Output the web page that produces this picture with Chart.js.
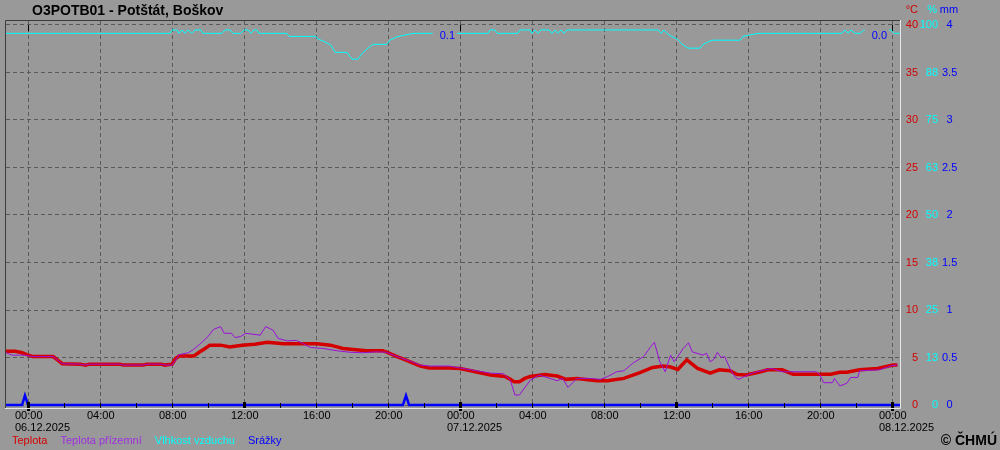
<!DOCTYPE html>
<html>
<head>
<meta charset="utf-8">
<title>O3POTB01 - Potštát, Boškov</title>
<script src="https://cdn.jsdelivr.net/npm/chart.js@4.4.1/dist/chart.umd.min.js"></script>
<style>
  html, body { margin: 0; padding: 0; background: #999999; }
  canvas { display: block; }
</style>
</head>
<body>
<canvas id="chart" width="1000" height="450"></canvas>
<script>
// hours from 06.12.2025 00:00
const tempHours = [-1.22, -0.7, -0.33, -0.06, 0.28, 1.4, 1.67, 1.9, 2.9, 3.2, 3.4, 5.1, 5.3, 6.4, 6.6, 7.4, 7.6, 8.0, 8.2, 8.4, 9.2, 9.55, 9.8, 10.1, 10.7, 11.2, 11.9, 12.6, 13.3, 14.2, 15.3, 16.05, 16.8, 17.5, 18.8, 19.7, 19.9, 20.5, 20.9, 21.4, 21.8, 22.3, 23.4, 24.0, 24.6, 25.7, 26.5, 26.8, 27.0, 27.3, 27.6, 27.9, 28.7, 29.4, 29.9, 30.5, 31.6, 32.2, 33.1, 34.0, 34.7, 35.3, 35.7, 36.1, 36.6, 37.2, 37.9, 38.4, 39.0, 39.4, 39.9, 40.7, 41.1, 41.9, 42.5, 44.6, 45.1, 45.5, 46.2, 47.2, 48.05, 48.3];
const tempValues = [5.65, 5.65, 5.5, 5.3, 5.1, 5.1, 4.7, 4.35, 4.3, 4.2, 4.3, 4.3, 4.2, 4.2, 4.3, 4.3, 4.2, 4.3, 4.9, 5.15, 5.15, 5.6, 5.9, 6.3, 6.3, 6.1, 6.3, 6.4, 6.6, 6.45, 6.45, 6.45, 6.3, 5.95, 5.7, 5.7, 5.6, 5.1, 4.8, 4.4, 4.1, 3.9, 3.9, 3.85, 3.6, 3.15, 3.0, 2.7, 2.45, 2.45, 2.8, 3.0, 3.2, 3.05, 2.7, 2.8, 2.55, 2.55, 2.8, 3.4, 3.95, 4.1, 4.0, 3.75, 4.75, 3.85, 3.35, 3.7, 3.6, 3.2, 3.15, 3.5, 3.7, 3.7, 3.25, 3.25, 3.45, 3.45, 3.7, 3.85, 4.2, 4.2];

const groundHours = [-1.22, -0.9, -0.2, 0.28, 1.4, 1.67, 1.9, 2.9, 3.2, 3.4, 5.1, 5.3, 6.4, 6.6, 7.4, 7.6, 8.0, 8.4, 8.9, 9.2, 9.6, 10.0, 10.3, 10.7, 10.9, 11.3, 11.5, 11.8, 12.1, 12.3, 12.9, 13.2, 13.6, 13.9, 14.4, 14.9, 15.3, 15.7, 16.4, 17.2, 17.9, 18.6, 19.4, 19.9, 20.5, 21.4, 21.8, 22.3, 23.4, 24.0, 24.6, 25.7, 26.4, 26.8, 27.05, 27.3, 27.9, 28.4, 29.0, 29.4, 29.7, 30.0, 30.5, 31.2, 31.8, 32.2, 32.7, 33.1, 33.6, 34.2, 34.6, 34.8, 35.1, 35.4, 35.7, 35.9, 36.4, 36.7, 36.9, 37.5, 37.7, 37.9, 38.1, 38.3, 38.5, 38.7, 39.0, 39.3, 39.5, 39.7, 40.3, 41.3, 41.9, 43.8, 44.0, 44.2, 44.7, 44.8, 45.1, 45.5, 45.7, 46.1, 46.2, 47.3, 48.0, 48.3];
const groundValues = [5.5, 5.25, 5.25, 5.1, 5.1, 4.7, 4.35, 4.3, 4.2, 4.3, 4.3, 4.2, 4.2, 4.3, 4.3, 4.2, 4.2, 5.3, 5.5, 5.85, 6.5, 7.2, 7.95, 8.25, 7.55, 7.55, 7.1, 7.2, 7.55, 7.5, 7.35, 8.25, 7.9, 7.0, 6.75, 6.8, 6.45, 6.05, 5.95, 5.7, 5.55, 5.5, 5.6, 5.55, 5.1, 4.5, 4.2, 4.1, 4.1, 3.9, 3.7, 3.35, 3.3, 2.6, 1.05, 1.05, 2.6, 3.15, 2.8, 2.55, 2.8, 1.85, 2.8, 2.8, 2.7, 3.0, 3.5, 3.6, 4.4, 5.1, 6.15, 6.6, 4.55, 3.5, 5.25, 4.55, 5.95, 6.55, 5.6, 5.25, 5.45, 4.55, 4.8, 5.55, 5.0, 5.1, 3.85, 2.9, 2.7, 2.9, 3.4, 3.85, 3.5, 3.5, 3.15, 2.35, 2.35, 2.8, 2.0, 2.3, 2.9, 2.9, 3.6, 3.7, 4.15, 4.2];

const humidityHours = [-1.22, 7.89, 8.0, 8.28, 8.39, 8.56, 8.72, 8.89, 9.11, 9.28, 9.61, 9.72, 10.78, 10.94, 11.22, 11.39, 11.83, 12.0, 12.22, 12.39, 12.56, 12.72, 12.83, 14.39, 14.5, 16.0, 16.1, 16.39, 16.83, 17.06, 17.72, 17.89, 18.0, 18.33, 18.61, 18.89, 19.17, 19.94, 20.11, 20.5, 21.39, 23.83, 25.56, 25.67, 25.94, 26.06, 27.22, 27.33, 27.89, 28.0, 28.17, 28.33, 28.5, 28.94, 29.11, 29.28, 29.44, 29.61, 29.78, 29.94, 30.11, 35.0, 35.17, 35.33, 35.5, 35.67, 36.06, 36.39, 36.67, 37.33, 37.5, 38.0, 39.56, 39.72, 40.56, 45.22, 45.39, 45.56, 45.72, 45.94, 46.22, 46.44, 47.94, 48.11, 48.44];
const humidityValues = [97.8, 97.8, 98.7, 98.7, 97.8, 98.7, 97.8, 98.7, 97.8, 98.7, 98.7, 97.8, 97.8, 98.7, 98.7, 97.8, 97.8, 98.7, 98.7, 97.8, 98.7, 98.7, 97.8, 97.8, 97.0, 97.0, 96.3, 95.8, 94.7, 92.8, 92.8, 91.7, 91.0, 91.0, 92.8, 93.9, 94.9, 94.9, 96.0, 96.9, 97.8, 97.8, 97.8, 98.7, 98.7, 97.8, 97.8, 98.7, 98.7, 97.8, 98.7, 97.8, 98.7, 98.7, 97.8, 98.7, 97.8, 98.7, 97.8, 98.7, 98.7, 98.7, 97.8, 98.7, 97.8, 97.2, 96.3, 94.7, 93.9, 93.9, 94.9, 96.0, 96.0, 97.0, 97.8, 97.8, 98.7, 97.8, 98.7, 97.8, 97.8, 98.7, 98.7, 97.8, 97.8];

const rainHours = [-1.22, -0.33, -0.17, 0, 20.83, 21.0, 21.17, 48.44];
const rainValues = [0, 0, 0.1, 0, 0, 0.1, 0, 0];

// daily precipitation totals, shown at the end of each day
const dayEndHours = [24, 48];
const dayTotals = ["0.1", "0.0"];

const timeTickHours = [0, 4, 8, 12, 16, 20, 24, 28, 32, 36, 40, 44, 48];
const timeTickLabels = ["00:00", "04:00", "08:00", "12:00", "16:00", "20:00", "00:00", "04:00", "08:00", "12:00", "16:00", "20:00", "00:00"];
const timeTickDates = ["06.12.2025", "", "", "", "", "", "07.12.2025", "", "", "", "", "", "08.12.2025"];
const minorTickHours = [0, 2, 4, 6, 8, 10, 12, 14, 16, 18, 20, 22, 24, 26, 28, 30, 32, 34, 36, 38, 40, 42, 44, 46, 48];

const tempTicks = [0, 5, 10, 15, 20, 25, 30, 35, 40];
const humidityTicks = [0, 12.5, 25, 37.5, 50, 62.5, 75, 87.5, 100];
const humidityLabels = ["0", "13", "25", "38", "50", "63", "75", "88", "100"];
const rainTicks = [0, 0.5, 1, 1.5, 2, 2.5, 3, 3.5, 4];
const rainLabels = ["0", "0.5", "1", "1.5", "2", "2.5", "3", "3.5", "4"];

const title = "O3POTB01 - Potštát, Boškov";
const legendLabels = ["Teplota", "Teplota přízemní", "Vlhkost vzduchu", "Srážky"];

const colors = {
  bg: "#999999",
  grid: "#5a5a5a",
  temp: "#d40000",
  ground: "#9a10d8",
  humidity: "#00ffff",
  rain: "#0000ff",
  text: "#000000",
};
const legendColors = [colors.temp, "#a030e0", colors.humidity, colors.rain];
const FONT_FAMILY = "'Liberation Sans', Arial, sans-serif";

function toPoints(hours, values) {
  return hours.map((h, i) => ({ x: h, y: values[i] }));
}

function setTicks(list) {
  return (axis) => {
    axis.ticks = list.map((v) => ({ value: v }));
  };
}

const decorPlugin = {
  id: "decor",
  afterDatasetsDraw(chart) {
    const { ctx, chartArea: area, scales } = chart;
    const x = scales.x;
    const yT = scales.y;
    const yH = scales.yHum;
    const zeroY = Math.round(yT.getPixelForValue(0));

    ctx.save();

    // daily precipitation sums with a background box over the humidity line
    ctx.font = `11px ${FONT_FAMILY}`;
    ctx.textBaseline = "middle";
    ctx.textAlign = "right";
    const labelY = yH.getPixelForValue(97.4);
    dayEndHours.forEach((h, i) => {
      const right = Math.round(x.getPixelForValue(h)) - 5;
      const w = ctx.measureText(dayTotals[i]).width;
      ctx.fillStyle = colors.bg;
      ctx.fillRect(right - w - 7, labelY - 7, w + 9, 14);
      ctx.fillStyle = colors.rain;
      ctx.fillText(dayTotals[i], right, labelY + 1);
    });

    // tick marks on the zero line, bigger at 00:00 and 12:00
    ctx.fillStyle = "#000000";
    minorTickHours.forEach((h) => {
      const px = Math.round(x.getPixelForValue(h));
      if (h % 24 === 0) {
        ctx.fillRect(px - 1, zeroY - 3, 3, 9);
      } else if (h % 12 === 0) {
        ctx.fillRect(px - 1, zeroY - 3, 3, 6);
      } else {
        ctx.fillRect(px, zeroY - 2, 1, 5);
      }
    });

    // day markers at the top
    const topY = Math.round(yT.getPixelForValue(40));
    dayEndHours.concat([0]).forEach((h) => {
      const px = Math.round(x.getPixelForValue(h));
      ctx.fillRect(px, topY, 1, 6);
    });

    // sunken frame
    ctx.lineWidth = 1;
    ctx.strokeStyle = "#3c3c3c";
    ctx.beginPath();
    ctx.moveTo(area.left - 0.5, area.bottom);
    ctx.lineTo(area.left - 0.5, area.top - 0.5);
    ctx.lineTo(area.right, area.top - 0.5);
    ctx.stroke();
    ctx.strokeStyle = "#e6e6e6";
    ctx.beginPath();
    ctx.moveTo(area.right + 0.5, area.top - 1);
    ctx.lineTo(area.right + 0.5, area.bottom + 0.5);
    ctx.lineTo(area.left - 1, area.bottom + 0.5);
    ctx.stroke();

    ctx.restore();
  },
  afterDraw(chart) {
    const { ctx, scales } = chart;
    ctx.save();

    ctx.fillStyle = colors.text;
    ctx.font = `bold 14px ${FONT_FAMILY}`;
    ctx.textBaseline = "middle";
    ctx.textAlign = "left";
    ctx.fillText(title, 32, 11);

    ctx.textAlign = "right";
    ctx.fillText("© ČHMÚ", 997, 441);

    // unit captions over the right axes
    ctx.font = `11px ${FONT_FAMILY}`;
    ctx.fillStyle = colors.temp;
    ctx.fillText("°C", scales.y.right, 10);
    ctx.fillStyle = colors.humidity;
    ctx.fillText("%", scales.yHum.right - 1, 10);
    ctx.fillStyle = colors.rain;
    ctx.textAlign = "center";
    ctx.fillText("mm", scales.yRain.left + 11, 10);

    // legend as plain coloured text
    ctx.textAlign = "left";
    let lx = 12;
    legendLabels.forEach((label, i) => {
      ctx.fillStyle = legendColors[i];
      ctx.fillText(label, lx, 441);
      lx += ctx.measureText(label).width + 13;
    });

    ctx.restore();
  },
};

Chart.defaults.font.family = FONT_FAMILY;
Chart.defaults.font.size = 11;

const chart = new Chart(document.getElementById("chart"), {
  type: "line",
  data: {
    datasets: [
      {
        label: legendLabels[3],
        data: toPoints(rainHours, rainValues),
        yAxisID: "yRain",
        borderColor: colors.rain,
        borderWidth: 2.5,
        pointRadius: 0,
        tension: 0,
      },
      {
        label: legendLabels[1],
        data: toPoints(groundHours, groundValues),
        yAxisID: "y",
        borderColor: colors.ground,
        borderWidth: 1,
        pointRadius: 0,
        tension: 0,
      },
      {
        label: legendLabels[0],
        data: toPoints(tempHours, tempValues),
        yAxisID: "y",
        borderColor: colors.temp,
        borderWidth: 3.5,
        pointRadius: 0,
        tension: 0,
      },
      {
        label: legendLabels[2],
        data: toPoints(humidityHours, humidityValues),
        yAxisID: "yHum",
        borderColor: colors.humidity,
        borderWidth: 1,
        pointRadius: 0,
        tension: 0,
      },
    ],
  },
  options: {
    responsive: false,
    animation: false,
    devicePixelRatio: 1,
    layout: {
      padding: { left: 6, top: 21, right: 40, bottom: 12 },
    },
    plugins: {
      legend: { display: false },
      tooltip: { enabled: false },
    },
    scales: {
      x: {
        type: "linear",
        min: -22 / 18,
        max: 48 + 8 / 18,
        afterBuildTicks: setTicks(timeTickHours),
        afterFit: (s) => { s.height = 30; },
        grid: { color: colors.grid, lineWidth: 1, drawTicks: false },
        border: { display: false, dash: [4, 3] },
        ticks: {
          color: colors.text,
          align: "start",
          labelOffset: -13,
          padding: 2,
          maxRotation: 0,
          autoSkip: false,
          font: { size: 11, lineHeight: "12px" },
          callback: (value, index) => {
            const date = timeTickDates[index];
            return date ? [timeTickLabels[index], date] : timeTickLabels[index];
          },
        },
      },
      y: {
        type: "linear",
        position: "right",
        weight: 1,
        min: 40 + 4 / 9.5 - 387 / 9.5,
        max: 40 + 4 / 9.5,
        afterBuildTicks: setTicks(tempTicks),
        afterFit: (s) => { s.width = 18; },
        grid: { color: colors.grid, lineWidth: 1, drawTicks: false },
        border: { display: false, dash: [4, 3] },
        ticks: {
          color: colors.temp,
          padding: 5,
          crossAlign: "far",
          callback: (value) => String(value),
        },
      },
      yHum: {
        type: "linear",
        position: "right",
        weight: 2,
        min: 100 + 4 / 3.8 - 387 / 3.8,
        max: 100 + 4 / 3.8,
        afterBuildTicks: setTicks(humidityTicks),
        afterFit: (s) => { s.width = 20; },
        grid: { display: false, drawTicks: false },
        border: { display: false },
        ticks: {
          color: colors.humidity,
          padding: 1,
          crossAlign: "far",
          callback: (value, index) => humidityLabels[index],
        },
      },
      yRain: {
        type: "linear",
        position: "right",
        weight: 3,
        min: 4 + 4 / 95 - 387 / 95,
        max: 4 + 4 / 95,
        afterBuildTicks: setTicks(rainTicks),
        afterFit: (s) => { s.width = 22; },
        grid: { display: false, drawTicks: false },
        border: { display: false },
        ticks: {
          color: colors.rain,
          padding: 4,
          crossAlign: "center",
          callback: (value, index) => rainLabels[index],
        },
      },
    },
  },
  plugins: [decorPlugin],
});
</script>
</body>
</html>
